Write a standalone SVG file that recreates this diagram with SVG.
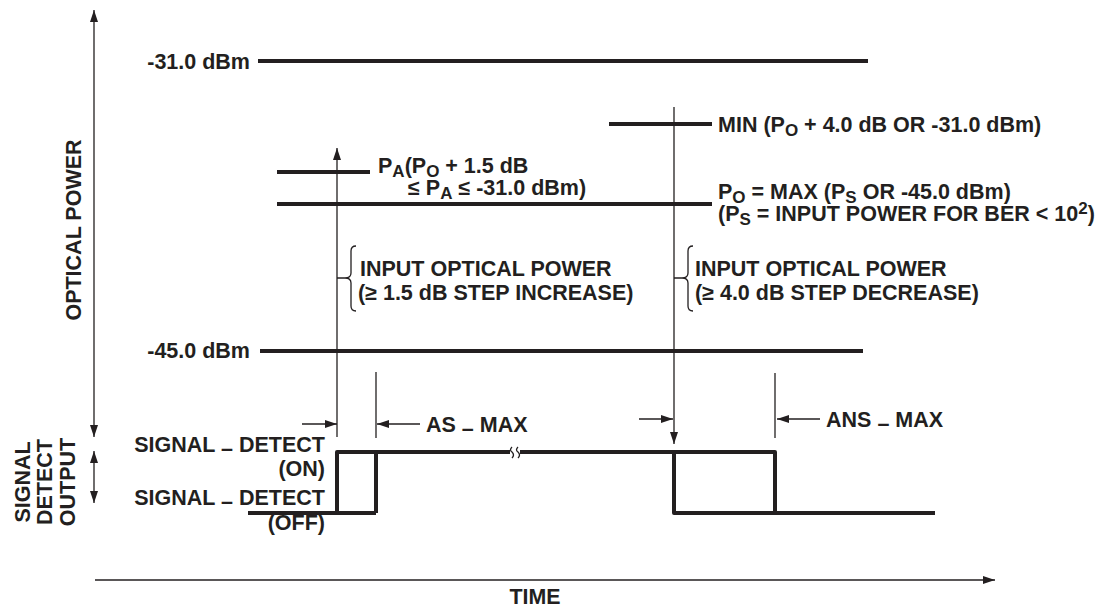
<svg xmlns="http://www.w3.org/2000/svg" width="1109" height="610" viewBox="0 0 1109 610">
<defs>
<style>
text{font-family:"Liberation Sans",Arial,sans-serif;font-weight:bold;font-size:21.5px;fill:#231f20}
.thick{stroke:#231f20;stroke-width:4;fill:none}
.wave{stroke:#231f20;stroke-width:4;fill:none;stroke-linejoin:round}
.thin{stroke:#231f20;stroke-width:1.3;fill:none}
.sub{font-size:17px}
</style>
<marker id="ah" viewBox="0 0 12 8" refX="12" refY="4" markerWidth="12" markerHeight="8" markerUnits="userSpaceOnUse" orient="auto-start-reverse">
<path d="M0,0 L12,4 L0,8 z" fill="#231f20"/>
</marker>
</defs>
<rect width="1109" height="610" fill="#fff"/>

<g id="axes">
<line class="thin" x1="94" y1="10" x2="94" y2="437" marker-start="url(#ah)" marker-end="url(#ah)"/>
<line class="thin" x1="94" y1="451" x2="94" y2="503" marker-start="url(#ah)" marker-end="url(#ah)"/>
<line class="thin" x1="95" y1="580" x2="995" y2="580" marker-end="url(#ah)"/>
<text transform="translate(81,230) rotate(-90)" text-anchor="middle">OPTICAL POWER</text>
<text transform="translate(30,482) rotate(-90)" text-anchor="middle">SIGNAL</text>
<text transform="translate(52,482) rotate(-90)" text-anchor="middle">DETECT</text>
<text transform="translate(75,482) rotate(-90)" text-anchor="middle">OUTPUT</text>
<text x="535" y="604" text-anchor="middle" textLength="51" lengthAdjust="spacingAndGlyphs">TIME</text>
</g>

<g id="level-31">
<line class="thick" x1="258" y1="61" x2="868" y2="61"/>
<text x="250" y="69" text-anchor="end">-31.0 dBm</text>
</g>

<g id="level-45">
<line class="thick" x1="260" y1="351" x2="863" y2="351"/>
<text x="250" y="358" text-anchor="end">-45.0 dBm</text>
</g>

<g id="level-PA">
<line class="thick" x1="277" y1="172" x2="370" y2="172"/>
<text x="378" y="173">P<tspan class="sub" dy="4">A</tspan><tspan dy="-4">(P</tspan><tspan class="sub" dy="4">O</tspan><tspan dy="-4"> + 1.5 dB</tspan></text>
<text x="408" y="195">≤ P<tspan class="sub" dy="4">A</tspan><tspan dy="-4"> ≤ -31.0 dBm)</tspan></text>
</g>

<g id="level-PO">
<line class="thick" x1="277" y1="204" x2="712" y2="204"/>
<text x="718" y="199">P<tspan class="sub" dy="4">O</tspan><tspan dy="-4"> = MAX (P</tspan><tspan class="sub" dy="4">S</tspan><tspan dy="-4"> OR -45.0 dBm)</tspan></text>
<text x="718" y="221">(P<tspan class="sub" dy="4">S</tspan><tspan dy="-4"> = INPUT POWER FOR BER &lt; 10</tspan><tspan class="sub" dy="-7">2</tspan><tspan dy="7">)</tspan></text>
</g>

<g id="level-MIN">
<line class="thick" x1="609" y1="124" x2="712" y2="124"/>
<text x="718" y="132">MIN (P<tspan class="sub" dy="4">O</tspan><tspan dy="-4"> + 4.0 dB OR -31.0 dBm)</tspan></text>
</g>

<g id="step-increase">
<path class="thin" d="M356,246 q-5,0 -5,5 v22 q0,5 -6,5 h-8 M345,278 q6,0 6,5 v23 q0,5 5,5"/>
<text x="360" y="276">INPUT OPTICAL POWER</text>
<text x="358" y="300">(≥ 1.5 dB STEP INCREASE)</text>
</g>

<g id="step-decrease">
<path class="thin" d="M693,246 q-5,0 -5,5 v22 q0,5 -6,5 h-8 M682,278 q6,0 6,5 v23 q0,5 5,5"/>
<text x="695" y="276">INPUT OPTICAL POWER</text>
<text x="695" y="300">(≥ 4.0 dB STEP DECREASE)</text>
</g>

<g id="signal-labels">
<text x="325" y="452" text-anchor="end">SIGNAL <tspan dy="4">–</tspan><tspan dy="-4"> DETECT</tspan></text>
<text x="325" y="476" text-anchor="end">(ON)</text>
<text x="325" y="505" text-anchor="end">SIGNAL <tspan dy="4">–</tspan><tspan dy="-4"> DETECT</tspan></text>
<text x="325" y="530" text-anchor="end">(OFF)</text>
</g>

<g id="waveform">
<path class="wave" d="M248,513 H376 M337,513 V452 H510 M376,452 V513"/>
<path class="wave" d="M520,452 H775 V513 M674,452 V513 H935"/>
<path class="thin" d="M512,447 q-3,3 0,5 q3,3 0,6 M518,447 q-3,3 0,5 q3,3 0,6"/>
</g>

<g id="connectors">
<line class="thin" x1="337" y1="437" x2="337" y2="148" marker-end="url(#ah)"/>
<line class="thin" x1="376" y1="372" x2="376" y2="438"/>
<line class="thin" x1="302" y1="424" x2="337" y2="424" marker-end="url(#ah)"/>
<line class="thin" x1="420" y1="424" x2="377" y2="424" marker-end="url(#ah)"/>
<text x="426" y="432">AS <tspan dy="4">–</tspan><tspan dy="-4"> MAX</tspan></text>

<line class="thin" x1="674" y1="107" x2="674" y2="444" marker-end="url(#ah)"/>
<line class="thin" x1="775" y1="373" x2="775" y2="438"/>
<line class="thin" x1="639" y1="419" x2="673" y2="419" marker-end="url(#ah)"/>
<line class="thin" x1="820" y1="419" x2="777" y2="419" marker-end="url(#ah)"/>
<text x="826" y="427">ANS <tspan dy="4">–</tspan><tspan dy="-4"> MAX</tspan></text>
</g>
</svg>
